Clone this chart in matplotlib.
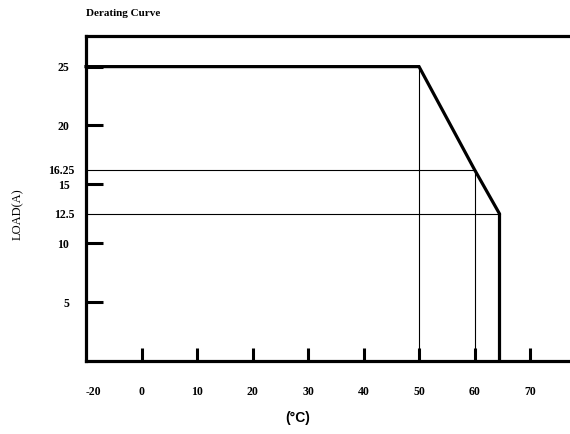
import matplotlib
matplotlib.use("Agg")
import matplotlib.pyplot as plt
from matplotlib.ticker import FixedLocator, FixedFormatter

# derating curve: temperature (C) vs load (A)
temp = [-10, 50, 60, 64.5, 64.5]
load = [25, 25, 16.25, 12.5, 0]

# guide lines
guide_h = [16.25, 12.5]
guide_h_end = [60, 64.5]
guide_v = [50, 60]
guide_v_top = [25, 16.25]

xticks = [0, 10, 20, 30, 40, 50, 60, 70]
xtick_labels = ["0", "10", "20", "30", "40", "50", "60", "70"]
xextra = [-10]
xextra_labels = ["-20"]
yticks = [5, 10, 15, 20, 25]
ytick_labels = ["5", "10", "15", "20", "25"]
yextra = [12.5, 16.25]
yextra_labels = ["12.5", "16.25"]

W, H = 570, 434
fig = plt.figure(figsize=(W / 100, H / 100), dpi=100)
ax = fig.add_axes([86 / W, 1 - 361 / H, (570 - 86) / W, (361 - 36) / H])

ax.set_xlim(-10, 77.2)
ax.set_ylim(0, 27.6)

serif = ["Liberation Serif", "DejaVu Serif"]

ax.plot(temp, load, color="black", lw=2.3, solid_joinstyle="miter", clip_on=False)
for y, xe in zip(guide_h, guide_h_end):
    ax.plot([-10, xe], [y, y], color="black", lw=0.8)
for x, yt in zip(guide_v, guide_v_top):
    ax.plot([x, x], [0, yt], color="black", lw=0.8)

for s in ["left", "top", "bottom"]:
    ax.spines[s].set_linewidth(2.3)
ax.spines["right"].set_visible(False)

ax.xaxis.set_major_locator(FixedLocator(xticks))
ax.xaxis.set_major_formatter(FixedFormatter(xtick_labels))
ax.xaxis.set_minor_locator(FixedLocator(xextra))
ax.xaxis.set_minor_formatter(FixedFormatter(xextra_labels))
ax.yaxis.set_major_locator(FixedLocator(yticks))
ax.yaxis.set_major_formatter(FixedFormatter(ytick_labels))
ax.yaxis.set_minor_locator(FixedLocator(yextra))
ax.yaxis.set_minor_formatter(FixedFormatter(yextra_labels))

ax.tick_params(axis="x", which="major", direction="in", length=9.5, width=2.2, pad=18)
ax.tick_params(axis="x", which="minor", direction="in", length=0, pad=18)
ax.tick_params(axis="y", which="major", direction="in", length=12, width=2.2, pad=12)
ax.tick_params(axis="y", which="minor", direction="in", length=0, pad=8)
ax.tick_params(top=False, right=False, which="both")
for lab in ax.get_xticklabels(which="both") + ax.get_yticklabels(which="both"):
    lab.set_family(serif)
    lab.set_fontsize(8.5)
    lab.set_fontweight("bold")
for lab in ax.get_xticklabels(which="minor"):
    lab.set_horizontalalignment("left")
for lab in ax.get_xticklabels(which="major"):
    lab.set_x(lab.get_position()[0])

fig.text(86 / W, 1 - 14 / H, "Derating Curve", family=serif, fontsize=8,
         fontweight="bold", va="center", ha="left")
fig.text(18 / W, 1 - 214 / H, "LOAD(A)", family=serif, fontsize=9,
         rotation=90, va="center", ha="center")
fig.text(298 / W, 1 - 418 / H, "(°C)", family=["Liberation Sans", "DejaVu Sans"],
         fontsize=10, fontweight="bold", va="center", ha="center")

fig.savefig("out.png", dpi=100, facecolor="white")
